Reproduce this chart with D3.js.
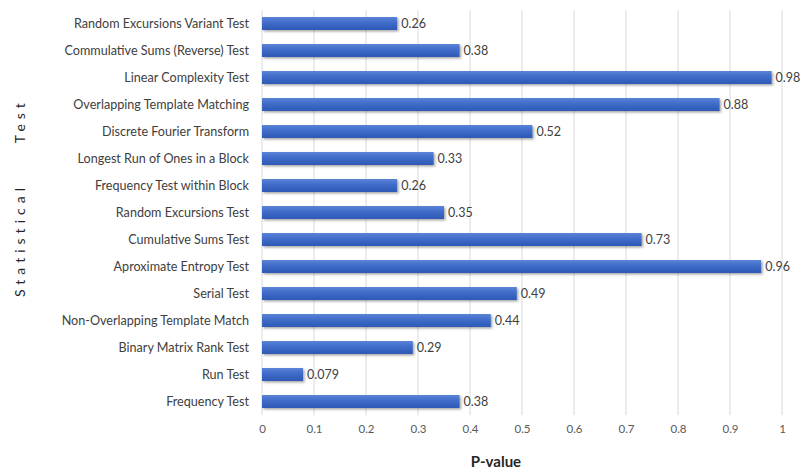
<!DOCTYPE html>
<html>
<head>
<meta charset="utf-8">
<script src="https://cdn.jsdelivr.net/npm/d3@7"></script>
<style>
  html, body { margin: 0; padding: 0; background: #fff; }
  svg { display: block; }
  text { font-family: Lato, "Open Sans", sans-serif; }
</style>
</head>
<body>
<svg id="chart" width="801" height="474"></svg>
<script>
// NIST statistical test suite results, listed top to bottom
const tests = [
  "Random Excursions Variant Test",
  "Commulative Sums (Reverse) Test",
  "Linear Complexity Test",
  "Overlapping Template Matching",
  "Discrete Fourier Transform",
  "Longest Run of Ones in a Block",
  "Frequency Test within Block",
  "Random Excursions Test",
  "Cumulative Sums Test",
  "Aproximate Entropy Test",
  "Serial Test",
  "Non-Overlapping Template Match",
  "Binary Matrix Rank Test",
  "Run Test",
  "Frequency Test"
];
const pValues = [0.26, 0.38, 0.98, 0.88, 0.52, 0.33, 0.26, 0.35, 0.73, 0.96, 0.49, 0.44, 0.29, 0.079, 0.38];
const valueLabels = ["0.26", "0.38", "0.98", "0.88", "0.52", "0.33", "0.26", "0.35", "0.73", "0.96", "0.49", "0.44", "0.29", "0.079", "0.38"];
const xTicks = [0, 0.1, 0.2, 0.3, 0.4, 0.5, 0.6, 0.7, 0.8, 0.9, 1];
const xTickLabels = ["0", "0.1", "0.2", "0.3", "0.4", "0.5", "0.6", "0.7", "0.8", "0.9", "1"];

const svg = d3.select("#chart");
const plot = { left: 262, right: 782, top: 10, bottom: 415 };

const x = d3.scaleLinear().domain([0, 1]).range([plot.left, plot.right]);
const y = d3.scaleBand().domain(tests).range([plot.top, plot.bottom]).paddingInner(0.52).paddingOuter(0.26);

const defs = svg.append("defs");
const grad = defs.append("linearGradient").attr("id", "barGrad")
  .attr("x1", 0).attr("y1", 0).attr("x2", 0).attr("y2", 1);
grad.append("stop").attr("offset", "0%").attr("stop-color", "#5a83d6");
grad.append("stop").attr("offset", "45%").attr("stop-color", "#3f6cc9");
grad.append("stop").attr("offset", "100%").attr("stop-color", "#2d58b5");
const shadow = defs.append("filter").attr("id", "barShadow")
  .attr("x", "-5%").attr("y", "-40%").attr("width", "115%").attr("height", "200%");
shadow.append("feDropShadow").attr("dx", 1.5).attr("dy", 1.5).attr("stdDeviation", 1.2)
  .attr("flood-color", "#000").attr("flood-opacity", 0.35);

// vertical gridlines
svg.append("g").selectAll("line").data(xTicks).join("line")
  .attr("x1", d => x(d)).attr("x2", d => x(d))
  .attr("y1", plot.top).attr("y2", plot.bottom)
  .attr("stroke", "#d9d9d9").attr("stroke-width", 1);

// x axis tick labels
const xAxis = d3.axisBottom(x).tickValues(xTicks)
  .tickFormat((d, i) => xTickLabels[i]).tickSize(0).tickPadding(0);
const gx = svg.append("g").attr("transform", `translate(0,${plot.bottom + 10})`).call(xAxis);
gx.select(".domain").remove();
gx.selectAll("text").attr("font-size", 11.5).attr("fill", "#595959")
  .style("font-family", "Lato, 'Open Sans', sans-serif");

// category labels
const yAxis = d3.axisLeft(y).tickSize(0).tickPadding(13);
const gy = svg.append("g").attr("transform", `translate(${plot.left},0)`).call(yAxis);
gy.select(".domain").remove();
gy.selectAll("text").attr("font-size", 12.6).attr("fill", "#404040")
  .style("font-family", "Lato, 'Open Sans', sans-serif");

// bars
svg.append("g").selectAll("rect").data(tests).join("rect")
  .attr("x", x(0))
  .attr("y", d => y(d))
  .attr("width", (d, i) => x(pValues[i]) - x(0))
  .attr("height", y.bandwidth())
  .attr("fill", "url(#barGrad)")
  .attr("filter", "url(#barShadow)");

// value labels at the bar ends
svg.append("g").selectAll("text").data(tests).join("text")
  .attr("x", (d, i) => x(pValues[i]) + 4)
  .attr("y", d => y(d) + y.bandwidth() / 2)
  .attr("dy", "0.35em")
  .attr("font-size", 12.5).attr("fill", "#404040")
  .text((d, i) => valueLabels[i]);

// axis titles
svg.append("text")
  .attr("x", x(0.45)).attr("y", 467)
  .attr("text-anchor", "middle")
  .attr("font-size", 15).attr("font-weight", "bold").attr("fill", "#262626")
  .text("P-value");

const yTitle = svg.append("text")
  .attr("transform", "translate(25,297) rotate(-90)")
  .attr("font-size", 14).attr("fill", "#262626")
  .attr("letter-spacing", "5px");
yTitle.append("tspan").text("Statistical");
yTitle.append("tspan").attr("dx", 40).text("Test");
</script>
</body>
</html>
